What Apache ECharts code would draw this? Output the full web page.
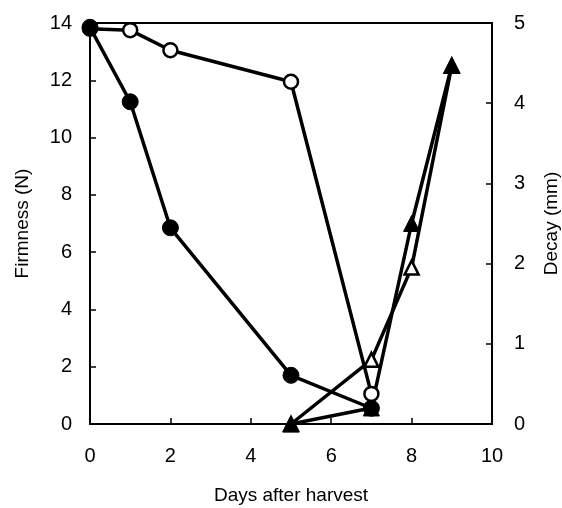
<!DOCTYPE html>
<html lang="en">
<head>
    <meta charset="UTF-8">
    <title>Firmness and decay</title>
    <style>
        body { margin: 0; padding: 0; background: #fff; }
        #chart { width: 562px; height: 508px; }
    </style>
</head>
<body>
<div id="chart"></div>
<script src="https://cdn.jsdelivr.net/npm/echarts@6/dist/echarts.min.js"></script>
<script>
    // days after harvest
    const firmDaysOpen = [0, 1, 2, 5, 7];
    const firmOpen = [13.8, 13.75, 13.05, 11.95, 1.05];
    const firmDaysFilled = [0, 1, 2, 5, 7];
    const firmFilled = [13.85, 11.25, 6.85, 1.7, 0.55];
    const decayDays = [5, 7, 8, 9];
    const decayOpen = [0, 0.8, 1.95, 4.47];
    const decayFilled = [0, 0.2, 2.5, 4.47];

    const zip = (xs, ys) => xs.map((x, i) => [x, ys[i]]);
    const font = "Liberation Sans, Arial, sans-serif";

    const chart = echarts.init(document.getElementById("chart"));

    const lineBase = {
        type: "line",
        symbolSize: 15,
        lineStyle: { color: "#000", width: 3.5 },
        animation: false,
    };

    const option = {
        backgroundColor: "#fff",
        grid: {
            left: 90, right: 70, top: 23, bottom: 84,
            outerBoundsMode: "none", containLabel: false,
            show: true, borderColor: "#000", borderWidth: 2,
        },
        xAxis: {
            type: "value", min: 0, max: 10, interval: 2,
            name: "Days after harvest", nameLocation: "middle", nameGap: 62,
            nameMoveOverlap: false,
            nameTextStyle: { fontFamily: font, fontSize: 19, color: "#000" },
            axisLine: { lineStyle: { color: "#000", width: 2 } },
            axisTick: { inside: true, length: 6, lineStyle: { color: "#000", width: 1.5 } },
            axisLabel: { fontFamily: font, fontSize: 20, color: "#000", margin: 22 },
            splitLine: { show: false },
        },
        yAxis: [
            {
                type: "value", min: 0, max: 14, interval: 2,
                name: "Firmness (N)", nameLocation: "middle", nameGap: 58, nameRotate: 90,
                nameMoveOverlap: false,
                nameTextStyle: { fontFamily: font, fontSize: 19, color: "#000" },
                axisLine: { lineStyle: { color: "#000", width: 2 } },
                axisTick: { inside: true, length: 6, lineStyle: { color: "#000", width: 1.5 } },
                axisLabel: { fontFamily: font, fontSize: 20, color: "#000", margin: 18 },
                splitLine: { show: false },
            },
            {
                type: "value", min: 0, max: 5, interval: 1, position: "right",
                name: "Decay (mm)", nameLocation: "middle", nameGap: 50, nameRotate: 90,
                nameMoveOverlap: false,
                nameTextStyle: { fontFamily: font, fontSize: 19, color: "#000" },
                axisLine: { show: true, lineStyle: { color: "#000", width: 2 } },
                axisTick: { inside: true, length: 6, lineStyle: { color: "#000", width: 1.5 } },
                axisLabel: { fontFamily: font, fontSize: 20, color: "#000", margin: 22 },
                splitLine: { show: false },
            },
        ],
        series: [
            Object.assign({}, lineBase, {
                name: "firm-open", yAxisIndex: 0, symbol: "circle", symbolSize: 14,
                itemStyle: { color: "#fff", borderColor: "#000", borderWidth: 2.5 },
                data: zip(firmDaysOpen, firmOpen),
            }),
            Object.assign({}, lineBase, {
                name: "firm-filled", yAxisIndex: 0, symbol: "circle", symbolSize: 16,
                itemStyle: { color: "#000", borderColor: "#000" },
                data: zip(firmDaysFilled, firmFilled),
            }),
            Object.assign({}, lineBase, {
                name: "decay-open", yAxisIndex: 1, symbol: "triangle", symbolSize: 14,
                itemStyle: { color: "#fff", borderColor: "#000", borderWidth: 2.5 },
                data: zip(decayDays, decayOpen),
            }),
            Object.assign({}, lineBase, {
                name: "decay-filled", yAxisIndex: 1, symbol: "triangle", symbolSize: 16,
                itemStyle: { color: "#000", borderColor: "#000" },
                data: zip(decayDays, decayFilled),
            }),
        ],
    };

    chart.setOption(option);
</script>
</body>
</html>
